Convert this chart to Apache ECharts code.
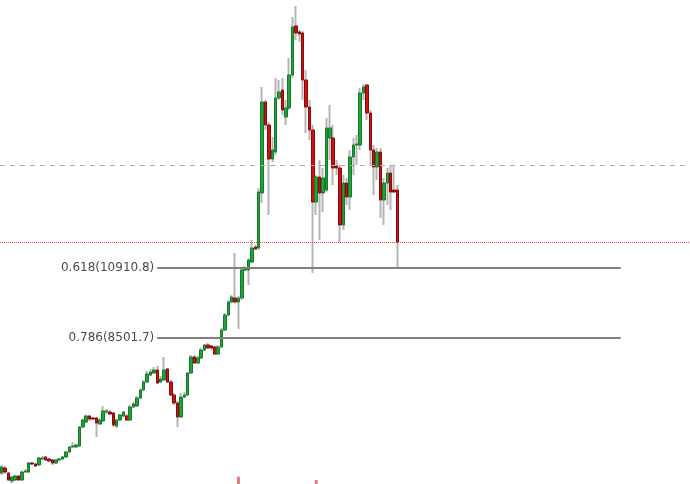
<!DOCTYPE html>
<html>
<head>
<meta charset="utf-8">
<script src="https://cdn.jsdelivr.net/npm/echarts@6/dist/echarts.min.js"></script>
<style>html,body{margin:0;padding:0;background:#fff}#c{width:690px;height:484px}</style>
</head>
<body>
<div id="c"></div>
<script>
// daily candles: [open, close, low, high]
const candles = [
[3856,4062,3787,4131],[4028,3890,3822,4097],[3856,3615,3581,3890],[3581,3718,3512,3753],
[3615,3753,3581,3787],[3753,3615,3581,3787],[3615,3890,3581,3925],[3890,3925,3856,3994],
[3890,4200,3856,4235],[4200,4166,4131,4235],[4166,4097,4062,4200],[4131,4372,4097,4407],
[4338,4372,4303,4441],[4407,4303,4269,4441],[4338,4269,4235,4372],[4303,4200,4131,4338],
[4200,4303,4166,4338],[4303,4338,4269,4372],[4338,4407,4303,4441],[4407,4579,4372,4613],
[4579,4751,4544,4785],[4751,4785,4716,4923],[4751,4820,4716,4854],[4785,5439,4751,5473],
[5439,5680,5405,5714],[5611,5818,5577,5852],[5818,5714,5645,5852],[5749,5714,5680,5783],
[5749,5577,5095,5783],[5542,5680,5508,5749],[5645,5990,5611,6162],[5955,5990,5886,6058],
[5955,5886,5852,6024],[5921,5508,5439,5955],[5473,5680,5405,5714],[5680,5852,5645,5886],
[5818,5955,5783,5990],[5818,5680,5645,5886],[5680,6127,5645,6196],[6127,6231,6093,6299],
[6162,6437,6127,6506],[6437,6712,6403,6781],[6712,6988,6678,7057],[6988,7263,6953,7366],
[7229,7332,7194,7435],[7297,7401,7263,7504],[7401,6953,6919,7538],[6988,7091,6953,7194],
[7057,7401,7022,7848],[7435,6988,6953,7469],[6988,6540,6506,7057],[6540,6265,6196,6609],
[6265,5783,5439,6334],[5783,6471,5749,6609],[6471,6540,6437,6644],[6540,7297,6506,7332],
[7297,7848,7263,7917],[7848,7642,7607,7917],[7642,7814,7607,7882],[7814,8089,7779,8158],
[8089,8261,8055,8295],[8261,8158,8123,8330],[8227,8158,8089,8261],[8192,7951,7917,8227],
[7951,8192,7917,8261],[8192,8777,8158,8846],[8777,9293,8743,9362],[9293,9741,9259,9810],
[9741,9913,9706,9982],[9878,9741,9706,11427],[9741,9878,8812,9947],[9878,10842,9810,10911],
[10842,10911,10808,10980],[10842,11186,10326,11255],[11117,11599,11083,11875],[11634,11565,11530,11702],
[11599,13526,11530,13664],[13492,16624,13148,17140],[16624,15832,15660,16693],[15832,14662,12735,15936],
[14662,14972,14559,15419],[14903,16762,14800,17450],[16762,16968,16693,17381],[17037,16349,16176,17450],
[16108,16417,15832,16693],[16417,17553,16349,18138],[17553,19205,17450,19549],[19240,18999,18758,19928],
[19033,18964,18689,19102],[18999,17381,16693,19067],[17381,16452,15557,17725],[16452,15660,15316,16693],
[15660,13182,10739,15832],[13182,14043,12735,14112],[14043,13492,11875,14628],[13492,14008,12838,14352],
[13595,15729,13526,16073],[15385,15729,14628,16521],[15385,14352,13767,15832],[14421,14352,14112,14628],
[14352,12391,11771,14456],[12391,13836,12219,14112],[13836,13354,13079,14008],[13354,14731,12907,14972],
[14731,15144,14112,15385],[15144,15178,14456,15488],[15144,16934,14972,17106],[16934,17140,16693,17243],
[17209,16245,16004,17243],[16245,14972,14456,16349],[14972,14387,13423,15144],[14387,14903,13939,15041],
[14903,13251,12632,15041],[13251,13836,12391,14008],[13836,14180,13079,14352],[14180,13526,12907,14456],
[13595,13526,13492,14456],[13595,11806,10911,13767]
];
const slotCount = 204;           // total category slots across the chart width (incl. empty future slots)
const startDate = '2017-09-22';
const fibLevels = [
  {ratio: '0.618', price: 10910.8},
  {ratio: '0.786', price: 8501.7}
];
const fibStartIndex = 46, fibEndIndex = 183;
const refLine = 14455.7;          // grey dashed level
const lastPrice = 11806;          // red dotted current price
const eventMarks = [[70, 1.5], [93, 0.8]]; // small markers at bottom

const categories = [];
{
  const d0 = new Date(startDate + 'T00:00:00Z');
  for (let i = 0; i < slotCount; i++) {
    const d = new Date(d0.getTime() + i * 86400000);
    categories.push(d.toISOString().slice(0, 10));
  }
}
const bodies = candles.map(c => [c[0], c[1], Math.min(c[0], c[1]), Math.max(c[0], c[1])]);
const markData = new Array(slotCount).fill(null);
eventMarks.forEach(m => { markData[m[0]] = m[1]; });

const chart = echarts.init(document.getElementById('c'), null, {renderer: 'canvas'});
chart.setOption({
  animation: false,
  backgroundColor: '#ffffff',
  grid: {left: 0, right: 0, top: 0, bottom: 0, containLabel: false},
  xAxis: {type: 'category', data: categories, boundaryGap: true, show: false},
  yAxis: [
    {type: 'value', min: 3477, max: 20134, show: false, scale: true},
    {type: 'value', min: 0, max: 100, show: false}
  ],
  series: [
    {
      type: 'candlestick', name: 'wick', data: candles, barWidth: 1,
      itemStyle: {color: '#b4b4b4', color0: '#b4b4b4', borderColor: '#b4b4b4', borderColor0: '#b4b4b4', borderWidth: 2},
      markLine: {
        silent: true, symbol: ['none', 'none'],
        label: {show: false},
        data: [
          {yAxis: refLine, lineStyle: {color: '#ababab', type: [5, 5], width: 1}},
          {yAxis: lastPrice, lineStyle: {color: '#ff3b3b', type: [1, 1], width: 1}}
        ]
      }
    },
    {
      type: 'candlestick', name: 'body', data: bodies, barWidth: 3,
      itemStyle: {color: '#1fa33b', color0: '#cc1111', borderColor: '#157a27', borderColor0: '#8a0a0a', borderWidth: 1},
      markLine: {
        silent: true, symbol: ['none', 'none'],
        lineStyle: {color: '#808080', type: 'solid', width: 2},
        label: {show: true, position: 'start', distance: 3, color: '#4a4a4a', fontFamily: 'DejaVu Sans', fontSize: 12},
        data: fibLevels.map(f => [
          {coord: [fibStartIndex, f.price], label: {formatter: f.ratio + '(' + f.price.toFixed(1) + ')'}},
          {coord: [fibEndIndex, f.price]}
        ])
      }
    },
    {
      type: 'bar', yAxisIndex: 1, data: markData, barWidth: 3,
      itemStyle: {color: '#e27a7a'}, silent: true
    }
  ]
});
</script>
</body>
</html>
